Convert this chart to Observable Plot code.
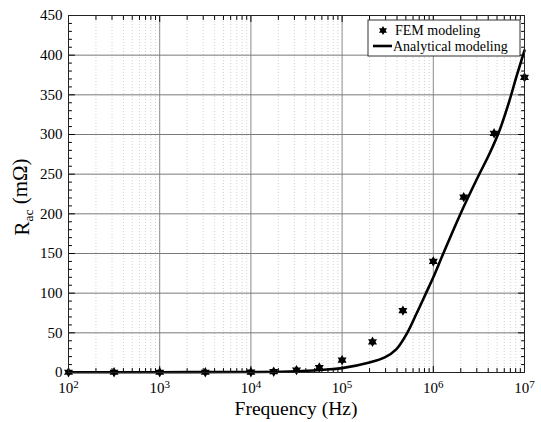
<!DOCTYPE html>
<html><head><meta charset="utf-8">
<script src="https://cdn.jsdelivr.net/npm/d3@7"></script>
<script src="https://cdn.jsdelivr.net/npm/@observablehq/plot@0.6"></script>
<style>body{margin:0;background:#fff} svg{display:block} svg text{font-family:"Liberation Serif","Times New Roman",serif !important}</style>
</head><body><div id="chart"></div>
<script>
// FEM modeling (markers)
const femFreq = [100, 316, 1000, 3162, 10000, 17783, 31623, 56234, 100000, 215443, 464159, 1000000, 2154435, 4641589, 10000000];
const femRac  = [0.3, 0.3, 0.3, 0.3, 0.4, 1, 3, 6.3, 15.6, 38.7, 78, 140, 221, 301.5, 372];
// Analytical modeling (line)
const anaFreq = [100, 1000, 10000, 31623, 74131, 100000, 199526, 293765, 394457, 506991, 653131, 839460, 1000000, 1276439, 1949845, 2951209, 4140000, 5320000, 6855000, 8110000, 10000000];
const anaRac  = [0.3, 0.4, 0.6, 1.5, 4, 5.5, 12.6, 19, 29.5, 48, 74, 101, 120, 149, 198, 242, 276, 305, 343, 372, 406];

const xTicks = [1e2, 1e3, 1e4, 1e5, 1e6, 1e7];
const xMinor = [];
for (let e = 2; e < 7; e++) for (let m = 2; m <= 9; m++) xMinor.push(m * Math.pow(10, e));
const yTicks = [0, 50, 100, 150, 200, 250, 300, 350, 400, 450];
const yMinor = [];
for (let v = 10; v < 450; v += 10) if (v % 50) yMinor.push(v);

const legendLabels = ["FEM modeling", "Analytical modeling"];
const xLabel = "Frequency (Hz)";
const yLabelMain = "R", yLabelSub = "ac", yLabelUnit = " (mΩ)";

const fem = femFreq.map((f, i) => ({f, r: femRac[i]}));
const ana = anaFreq.map((f, i) => ({f, r: anaRac[i]}));

const hexagram = {
  draw(ctx, size) {
    const R = Math.sqrt(size / Math.PI), r = R / Math.sqrt(3);
    for (let i = 0; i < 12; i++) {
      const a = i * Math.PI / 6 - Math.PI / 2, rr = i % 2 ? r : R;
      const x = rr * Math.cos(a), y = rr * Math.sin(a);
      i ? ctx.lineTo(x, y) : ctx.moveTo(x, y);
    }
    ctx.closePath();
  }
};
const tickShape = {draw(ctx, l) { ctx.moveTo(0, 0); ctx.lineTo(0, -l); }};

const xMin = 1e2, xMax = 1e7, yMin = 0, yMax = 450;
const serif = "'Liberation Serif', 'Times New Roman', serif";

const chart = Plot.plot({
  width: 541, height: 422,
  marginLeft: 68, marginRight: 17, marginTop: 15, marginBottom: 50,
  style: {fontFamily: serif, fontSize: "15px", color: "black", background: "white"},
  x: {type: "log", domain: [xMin, xMax]},
  y: {domain: [yMin, yMax]},
  marks: [
    Plot.ruleX(xMinor, {x: d => d, stroke: "#d2d2d2", strokeDasharray: "1,2", strokeWidth: 1}),
    Plot.ruleX(xTicks, {x: d => d, stroke: "#8a8a8a", strokeWidth: 1}),
    Plot.ruleY(yTicks, {y: d => d, stroke: "#7a7a7a", strokeWidth: 1}),
    // inward ticks
    Plot.vector(xTicks, {x: d => d, y: () => yMin, length: 6, rotate: 0, anchor: "start", shape: tickShape, stroke: "black", strokeWidth: 1}),
    Plot.vector(xTicks, {x: d => d, y: () => yMax, length: 6, rotate: 180, anchor: "start", shape: tickShape, stroke: "black", strokeWidth: 1}),
    Plot.vector(xMinor, {x: d => d, y: () => yMin, length: 4, rotate: 0, anchor: "start", shape: tickShape, stroke: "black", strokeWidth: 1}),
    Plot.vector(xMinor, {x: d => d, y: () => yMax, length: 4, rotate: 180, anchor: "start", shape: tickShape, stroke: "black", strokeWidth: 1}),
    Plot.vector(yTicks, {x: () => xMin, y: d => d, length: 6, rotate: 90, anchor: "start", shape: tickShape, stroke: "black", strokeWidth: 1}),
    Plot.vector(yTicks, {x: () => xMax, y: d => d, length: 6, rotate: -90, anchor: "start", shape: tickShape, stroke: "black", strokeWidth: 1}),
    Plot.vector(yMinor, {x: () => xMin, y: d => d, length: 3, rotate: 90, anchor: "start", shape: tickShape, stroke: "black", strokeWidth: 1}),
    Plot.vector(yMinor, {x: () => xMax, y: d => d, length: 3, rotate: -90, anchor: "start", shape: tickShape, stroke: "black", strokeWidth: 1}),
    Plot.axisX(xTicks, {tickSize: 0, tickPadding: 10, fontSize: 15, tickFormat: d => "10^" + Math.round(Math.log10(d)), label: null}),
    Plot.axisY(yTicks, {tickSize: 0, tickPadding: 6, fontSize: 15, label: null}),
    Plot.line(ana, {x: "f", y: "r", stroke: "black", strokeWidth: 2.6, curve: "catmull-rom"}),
    Plot.dot(fem, {x: "f", y: "r", symbol: hexagram, r: 5.2, fill: "black", stroke: "none"}),
    Plot.frame({stroke: "#222", strokeWidth: 1})
  ]
});

document.getElementById("chart").appendChild(chart);
const svg = d3.select(chart);

// superscript exponents on x tick labels
svg.selectAll('g[aria-label="x-axis tick label"] text').each(function() {
  const t = d3.select(this);
  const s = t.text();
  const [base, exp] = s.split("^");
  t.text(null);
  t.append("tspan").text(base);
  t.append("tspan").attr("dy", "-0.45em").style("font-size", "11px").text(exp);
});

// axis labels
svg.append("text").attr("x", 296).attr("y", 415).attr("text-anchor", "middle")
  .style("font-size", "19.5px").style("font-family", serif).text(xLabel);
const yl = svg.append("text").attr("transform", "translate(29,197) rotate(-90)")
  .attr("text-anchor", "middle").style("font-size", "21px").style("font-family", serif);
yl.append("tspan").text(yLabelMain);
yl.append("tspan").attr("dy", "0.3em").style("font-size", "13.5px").text(yLabelSub);
yl.append("tspan").attr("dy", "-0.3em").text(yLabelUnit);

// legend
const lg = svg.append("g").style("font-family", serif).style("font-size", "14px").attr("text-anchor", "start");
lg.append("rect").attr("x", 368).attr("y", 20).attr("width", 152).attr("height", 36)
  .attr("fill", "white").attr("stroke", "#333").attr("stroke-width", 1);
lg.append("path").attr("transform", "translate(383,30.5)").attr("d", d3.symbol(hexagram, Math.PI * 4.6 * 4.6)()).attr("fill", "black");
lg.append("line").attr("x1", 373).attr("x2", 392).attr("y1", 46).attr("y2", 46).attr("stroke", "black").attr("stroke-width", 2.6);
lg.append("text").attr("x", 395).attr("y", 35).attr("text-anchor", "start").text(legendLabels[0]);
lg.append("text").attr("x", 393).attr("y", 51).attr("text-anchor", "start").text(legendLabels[1]);
</script>
</body></html>
